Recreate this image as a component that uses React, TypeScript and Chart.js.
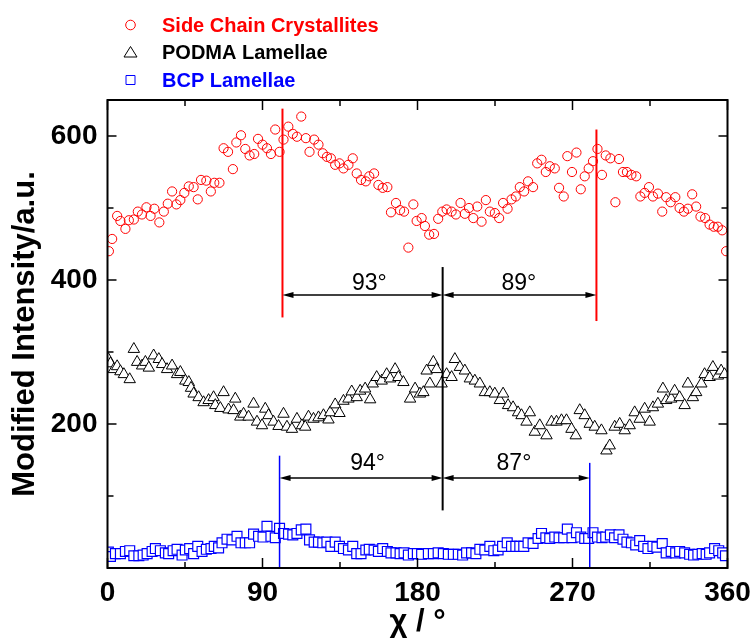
import React, { useEffect, useRef } from "react";
import { Chart, registerables } from "chart.js";

Chart.register(...registerables);

const FONT = '"Liberation Sans", Arial, Helvetica, sans-serif';

// ---------- data ----------
const seriesLabels = ["Side Chain Crystallites", "PODMA Lamellae", "BCP Lamellae"];

const sideChainX = [
  0.8, 2.7, 5.6, 7.5, 10.4, 12.4, 15.3, 17.6, 20, 22.6,
  25, 27.2, 30.1, 32.7, 35, 37.5, 40, 42.3, 44.6, 47.2,
  50, 52.4, 54.3, 57.4, 60, 62, 65, 67.4, 70, 72.8,
  74.8, 77.5, 80, 82.5, 85.2, 87.4, 90, 92.6, 94.9, 97.4,
  99.9, 102.2, 105, 107.6, 110, 112.5, 115.2, 117.3, 120, 122.5,
  125, 127.4, 129.7, 132.2, 134.7, 137, 139.9, 142.4, 144.7, 147.2,
  150, 152, 154.8, 157.3, 159.8, 162.5, 164.6, 167.5, 169.9, 172.2,
  174.7, 177.6, 179.5, 182.4, 184.3, 186.8, 189.6, 192, 194.4, 196.9,
  199.8, 202.3, 205, 207.5, 209.9, 212.4, 214.7, 217.2, 219.7, 222,
  224.9, 227.4, 229.7, 232.3, 234.6, 237.1, 239.4, 241.9, 244.2, 247.1,
  249.5, 252, 254.5, 256.8, 259.7, 262.2, 264.9, 267, 269.7, 272.3,
  274.8, 277.1, 279.4, 281.9, 284.5, 287.1, 289.3, 292, 294.9, 297,
  299.3, 301.6, 304.2, 307, 309.4, 311.9, 314.4, 316.7, 319.6, 322.1,
  324.4, 327, 329.7, 332.2, 334.7, 337, 339.5, 341.8, 344.3, 347,
  349.6, 352, 354.4, 356.9, 359.2,
];
const sideChainY = [
  440, 457, 489, 482, 471, 483, 484, 495, 491, 501,
  489, 499, 480, 495, 506, 523, 505, 511, 521, 530,
  529, 512, 539, 538, 523, 535, 535, 583, 578, 554,
  591, 601, 582, 573, 575, 596, 588, 583, 575, 609,
  578, 595, 613, 603, 599, 627, 597, 578, 595, 588,
  576, 571, 569, 560, 562, 555, 560, 569, 548, 539,
  537, 544, 548, 532, 528, 529, 494, 507, 497, 495,
  445, 505, 482, 486, 475, 463, 464, 485, 495, 498,
  495, 491, 507, 492, 500, 486, 502, 481, 511, 495,
  493, 486, 507, 499, 512, 516, 529, 523, 537, 529,
  562, 567, 550, 558, 555, 528, 516, 572, 550, 577,
  526, 544, 555, 565, 582, 546, 573, 569, 508, 568,
  550, 550, 546, 544, 516, 521, 529, 516, 520, 495,
  515, 508, 515, 500, 495, 499, 519, 502, 488, 486,
  477, 474, 474, 469, 440,
];

const podmaX = [
  0.5, 1.7, 3.7, 5.6, 7.5, 9.5, 12.9, 15.3, 17.2, 20.1,
  22, 24, 26.8, 29.8, 31.7, 34.6, 37.5, 40.4, 42.3, 45.2,
  47.2, 48.5, 50, 52.9, 55.8, 58.7, 61.6, 62.6, 65.5, 67.4,
  70.3, 73.2, 74.2, 77.1, 79, 81.9, 84.8, 86.8, 89.7, 91.6,
  93.5, 96.4, 99.3, 102.2, 104.2, 107.1, 110, 112.9, 114.8, 116.7,
  119.6, 122.5, 125.4, 128.3, 129.3, 132.2, 134.7, 137, 139.9, 141.8,
  144.7, 146.7, 149.6, 152.5, 154, 156.3, 159.2, 162.1, 164.1, 167,
  168.9, 171.8, 175.7, 178.6, 181.4, 183.4, 185.3, 187.2, 189.2, 191.1,
  194, 196.9, 199.8, 201.7, 204.6, 207.5, 210.4, 213.3, 216.2, 219.1,
  222, 224.9, 227.8, 229.7, 232.6, 235.5, 238.4, 240.4, 243.3, 245.2,
  248.1, 251, 254.9, 257.8, 260.7, 263.6, 266.5, 269.4, 271.9, 274.2,
  277.1, 280, 282.9, 286.8, 289.7, 291.6, 294.5, 297.4, 300.3, 303.2,
  306.1, 309, 311.9, 314.8, 316.7, 319.6, 322.5, 324.4, 327.3, 329.3,
  332.2, 335.1, 337, 339.9, 341.8, 344.8, 346.7, 349.6, 351.5, 354.4,
  356.3, 358.3,
];
const podmaY = [
  290, 284, 276, 280, 273, 269, 262, 304, 286, 281,
  286, 278, 295, 290, 283, 276, 281, 269, 272, 260,
  258, 250, 242, 237, 230, 233, 237, 226, 222, 244,
  220, 219, 235, 210, 214, 210, 228, 203, 198, 221,
  212, 203, 197, 214, 196, 193, 207, 198, 196, 210,
  207, 209, 212, 206, 216, 227, 215, 232, 235, 245,
  237, 246, 249, 234, 256, 265, 260, 269, 263, 276,
  265, 258, 235, 249, 242, 244, 274, 256, 286, 276,
  256, 269, 265, 290, 279, 274, 263, 260, 256, 244,
  244, 242, 233, 242, 226, 223, 216, 212, 203, 216,
  189, 198, 184, 203, 203, 205, 205, 193, 184, 219,
  212, 200, 196, 191, 163, 170, 196, 200, 191, 198,
  216, 207, 221, 203, 223, 228, 249, 233, 235, 246,
  237, 226, 256, 237, 244, 256, 269, 265, 279, 267,
  274, 269,
];

const bcpX = [
  0.5, 1.7, 4.6, 7.5, 10.4, 12.9, 15.3, 18.2, 20.7, 23,
  25.9, 27.8, 30.7, 33.6, 35.5, 38.1, 40.4, 43.3, 45.2, 47.7,
  50, 52.4, 54.9, 57.4, 60.1, 62, 64.5, 66.5, 69.4, 72.3,
  75.2, 77.5, 80, 82.5, 84.8, 87.7, 90.3, 92.6, 94.9, 97.4,
  99.9, 102.2, 105.1, 107.6, 110, 112.5, 115.2, 117.3, 120, 122.5,
  125, 127.4, 129.7, 132.2, 134.7, 137, 139.9, 142.4, 144.7, 147.2,
  150, 152, 154.8, 157.3, 159.8, 162.5, 164.6, 167.5, 169.9, 172.2,
  174.7, 177.6, 179.9, 182.4, 186.3, 189.2, 192, 195, 197.9, 200.8,
  203.7, 206.2, 208.5, 211.4, 213.9, 216.2, 219.1, 222, 224.3, 226.8,
  229.4, 232.1, 234.6, 237.1, 239.4, 241.7, 244.2, 247.1, 250, 252,
  254.5, 256.8, 259.7, 262.2, 264.9, 267, 269.7, 272.3, 274.8, 277.1,
  279.4, 281.9, 284.5, 287.1, 289.3, 292, 294.4, 297, 299.3, 301.6,
  304.2, 306.7, 309, 311.3, 313.8, 316.7, 319, 322.1, 324.4, 327.3,
  329.9, 332.2, 335.1, 338, 340.3, 342.8, 345.3, 347.6, 349.6, 352.5,
  354.9, 357.2, 358.8,
];
const bcpY = [
  22, 16, 20, 20, 23, 24, 17, 17, 18, 20,
  23, 27, 24, 21, 20, 24, 26, 18, 25, 27,
  20, 30, 23, 26, 27, 30, 28, 35, 40, 39,
  44, 35, 35, 35, 47, 44, 43, 58, 44, 42,
  55, 48, 47, 46, 48, 53, 54, 39, 36, 36,
  35, 36, 30, 36, 30, 27, 25, 30, 20, 20,
  25, 26, 25, 23, 27, 23, 21, 21, 20, 21,
  18, 20, 20, 19, 20, 20, 21, 20, 19, 19,
  19, 18, 21, 21, 20, 26, 25, 30, 24, 25,
  30, 35, 30, 30, 30, 30, 35, 34, 41, 48,
  42, 41, 43, 42, 42, 54, 42, 49, 43, 41,
  41, 49, 43, 42, 43, 46, 42, 46, 40, 36,
  35, 32, 38, 30, 27, 30, 29, 34, 21, 23,
  21, 23, 21, 19, 18, 19, 20, 19, 21, 27,
  24, 21, 17,
];

// axis ticks
const xMajorTicks = [0, 90, 180, 270, 360];
const xMinorTicks = [45, 135, 225, 315];
const yMajorTicks = [200, 400, 600];
const yMinorTicks = [100, 300, 500];

// guide lines (peak positions, degrees) and their vertical extent (intensity)
const guideX = [101.6, 283.9, 194.6, 99.9, 280.0];
const guideYStart = [348, 343, 80, 0, 0];
const guideYEnd = [638, 609, 418, 156, 146];

// angular separations
const spanFrom = [101.6, 194.6, 99.9, 194.6];
const spanTo = [194.6, 283.9, 194.6, 280.0];
const spanY = [379, 379, 125, 125];
const spanLabels = ["93°", "89°", "94°", "87°"];
const spanLabelX = [152, 238.8, 151, 236];
const spanLabelY = [394.5, 394.5, 145.3, 145.3];

// ---------- plugins ----------
const guideColors = ["#ff0000", "#ff0000", "#000000", "#0000ff", "#0000ff"];
const guideWidths = [2, 2, 2, 1.5, 1.5];

const annotationPlugin = {
  id: "angleAnnotations",
  afterDatasetsDraw(chart: any) {
    const { ctx, scales } = chart;
    const x = scales.x;
    const y = scales.y;
    ctx.save();
    guideX.forEach((gx, i) => {
      const px = x.getPixelForValue(gx);
      ctx.beginPath();
      ctx.strokeStyle = guideColors[i];
      ctx.lineWidth = guideWidths[i];
      ctx.moveTo(px, y.getPixelForValue(guideYStart[i]));
      ctx.lineTo(px, y.getPixelForValue(guideYEnd[i]));
      ctx.stroke();
    });
    const head = 11;
    const half = 3;
    spanFrom.forEach((fromV, i) => {
      const x0 = x.getPixelForValue(fromV);
      const x1 = x.getPixelForValue(spanTo[i]);
      const py = y.getPixelForValue(spanY[i]);
      ctx.strokeStyle = "#000";
      ctx.fillStyle = "#000";
      ctx.lineWidth = 1.5;
      ctx.beginPath();
      ctx.moveTo(x0 + head - 1, py);
      ctx.lineTo(x1 - head + 1, py);
      ctx.stroke();
      ctx.beginPath();
      ctx.moveTo(x0, py);
      ctx.lineTo(x0 + head, py - half);
      ctx.lineTo(x0 + head, py + half);
      ctx.closePath();
      ctx.fill();
      ctx.beginPath();
      ctx.moveTo(x1, py);
      ctx.lineTo(x1 - head, py - half);
      ctx.lineTo(x1 - head, py + half);
      ctx.closePath();
      ctx.fill();
      ctx.font = `23px ${FONT}`;
      ctx.textAlign = "center";
      ctx.textBaseline = "middle";
      ctx.fillText(
        spanLabels[i],
        x.getPixelForValue(spanLabelX[i]),
        y.getPixelForValue(spanLabelY[i])
      );
    });
    ctx.restore();
  },
};

const framePlugin = {
  id: "frameTicks",
  afterDatasetsDraw(chart: any) {
    const { ctx, chartArea, scales } = chart;
    const { left, right, top, bottom } = chartArea;
    const x = scales.x;
    const y = scales.y;
    ctx.save();
    ctx.strokeStyle = "#000";
    ctx.lineWidth = 2;
    ctx.strokeRect(left, top, right - left, bottom - top);
    ctx.lineWidth = 1.5;
    const seg = (a: number, b: number, c: number, d: number) => {
      ctx.beginPath();
      ctx.moveTo(a, b);
      ctx.lineTo(c, d);
      ctx.stroke();
    };
    const drawX = (vals: number[], len: number) =>
      vals.forEach((v) => {
        const px = x.getPixelForValue(v);
        seg(px, bottom, px, bottom - len);
        seg(px, top, px, top + len);
      });
    const drawY = (vals: number[], len: number) =>
      vals.forEach((v) => {
        const py = y.getPixelForValue(v);
        seg(left, py, left + len, py);
        seg(right, py, right - len, py);
      });
    drawX(xMajorTicks, 10);
    drawX(xMinorTicks, 6);
    drawY(yMajorTicks, 9);
    drawY(yMinorTicks, 6);
    ctx.restore();
  },
};

const legendPlugin = {
  id: "legendBlock",
  afterDraw(chart: any) {
    const { ctx } = chart;
    ctx.save();
    const rows = [25, 52, 80];
    chart.data.datasets.forEach((ds: any, i: number) => {
      const cx = 130.5;
      const cy = rows[i];
      ctx.strokeStyle = ds.borderColor;
      ctx.lineWidth = 1;
      ctx.fillStyle = "#fff";
      ctx.beginPath();
      if (ds.pointStyle === "circle") {
        ctx.arc(cx, cy, 4.8, 0, Math.PI * 2);
      } else if (ds.pointStyle === "triangle") {
        ctx.moveTo(cx, cy - 5.5);
        ctx.lineTo(cx + 6.5, cy + 5);
        ctx.lineTo(cx - 6.5, cy + 5);
        ctx.closePath();
      } else {
        ctx.rect(cx - 4.5, cy - 4.5, 9, 9);
      }
      ctx.fill();
      ctx.stroke();
      ctx.font = `bold 20px ${FONT}`;
      ctx.fillStyle = ds.borderColor;
      ctx.textAlign = "left";
      ctx.textBaseline = "middle";
      ctx.fillText(ds.label, 162, cy + 1);
    });
    ctx.restore();
  },
};

function toPoints(xs: number[], ys: number[]) {
  return xs.map((v, i) => ({ x: v, y: ys[i] }));
}

export default function App() {
  const canvasRef = useRef<HTMLCanvasElement | null>(null);

  useEffect(() => {
    const canvas = canvasRef.current;
    if (!canvas) return;
    const tickFont = { family: FONT, size: 28, weight: "bold" as const };
    const titleFont = { family: FONT, size: 31, weight: "bold" as const };
    const chart = new Chart(canvas, {
      type: "scatter",
      data: {
        datasets: [
          {
            label: seriesLabels[0],
            data: toPoints(sideChainX, sideChainY),
            pointStyle: "circle",
            pointRadius: 4.6,
            borderColor: "#ff0000",
            backgroundColor: "rgba(255,255,255,0)",
            pointBorderWidth: 1,
            clip: 0,
          },
          {
            label: seriesLabels[1],
            data: toPoints(podmaX, podmaY),
            pointStyle: "triangle",
            pointRadius: 6.6,
            borderColor: "#000000",
            backgroundColor: "#ffffff",
            pointBorderWidth: 1,
            clip: 0,
          },
          {
            label: seriesLabels[2],
            data: toPoints(bcpX, bcpY),
            pointStyle: "rect",
            pointRadius: 7,
            borderColor: "#0000ff",
            backgroundColor: "#ffffff",
            pointBorderWidth: 1.2,
            clip: 0,
          },
        ] as any,
      },
      options: {
        responsive: false,
        animation: false,
        events: [],
        layout: { padding: { top: 100, right: 24.5, bottom: 0, left: 0 } },
        plugins: {
          legend: { display: false },
          tooltip: { enabled: false },
        },
        scales: {
          x: {
            type: "linear",
            min: 0,
            max: 360,
            afterBuildTicks: (s: any) => {
              s.ticks = xMajorTicks.map((v) => ({ value: v }));
            },
            afterFit: (s: any) => {
              s.height = 70;
              s.paddingLeft = 0;
              s.paddingRight = 0;
            },
            ticks: {
              font: tickFont,
              color: "#000",
              padding: 8,
              maxRotation: 0,
              autoSkip: false,
            },
            grid: { display: false, drawTicks: false },
            border: { display: false },
            title: {
              display: true,
              text: "χ / °",
              color: "#000",
              font: { ...titleFont, lineHeight: 1.0 },
              padding: { top: 0, bottom: 0 },
            },
          },
          y: {
            type: "linear",
            min: 0,
            max: 650,
            afterBuildTicks: (s: any) => {
              s.ticks = yMajorTicks.map((v) => ({ value: v }));
            },
            afterFit: (s: any) => {
              s.width = 107.5;
            },
            ticks: {
              font: tickFont,
              color: "#000",
              padding: 10,
            },
            grid: { display: false, drawTicks: false },
            border: { display: false },
            title: {
              display: true,
              text: "Modified Intensity/a.u.",
              color: "#000",
              font: titleFont,
              padding: { top: 6.4, bottom: 0 },
            },
          },
        },
      } as any,
      plugins: [annotationPlugin, framePlugin, legendPlugin],
    });
    return () => chart.destroy();
  }, []);

  return (
    <div
      style={{
        position: "fixed",
        left: 0,
        top: 0,
        width: 752,
        height: 638,
        background: "#ffffff",
      }}
    >
      <canvas
        ref={canvasRef}
        width={752}
        height={638}
        style={{ display: "block", width: 752, height: 638 }}
      />
    </div>
  );
}
